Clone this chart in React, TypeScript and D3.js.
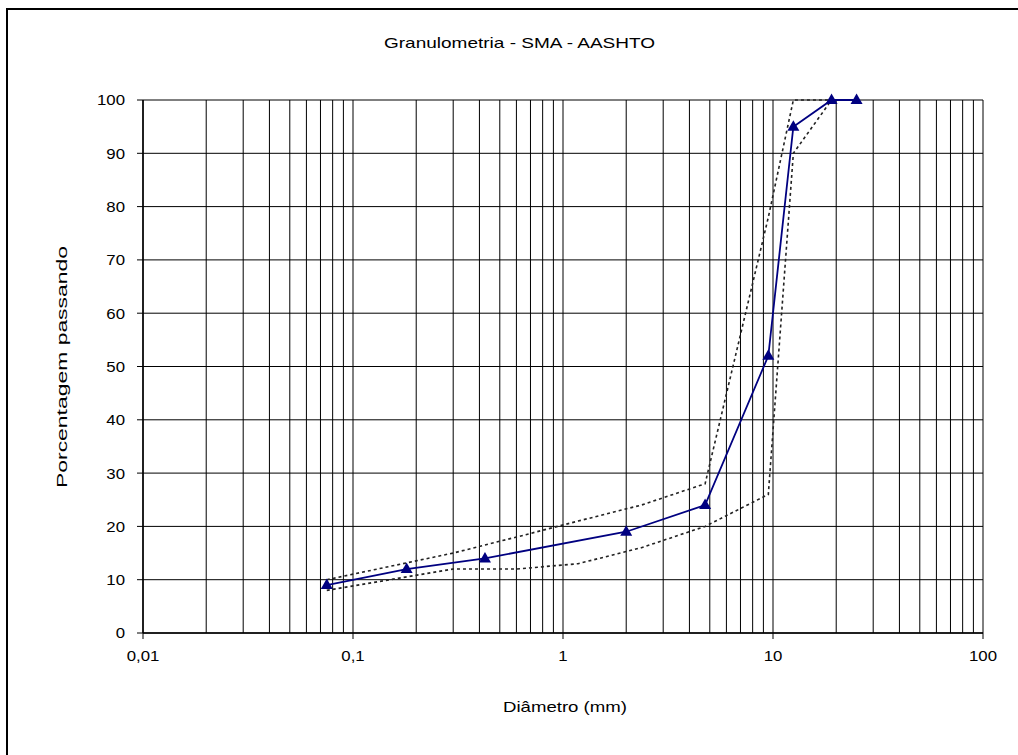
import React from "react";
import * as d3 from "d3";

// measured gradation (Brazilian sieve series)
const sieves = [0.075, 0.18, 0.425, 2.0, 4.75, 9.5, 12.5, 19, 25];
const passing = [9, 12, 14, 19, 24, 52, 95, 100, 100];
// AASHTO SMA band (AASHTO sieve series)
const bandSieves = [0.075, 0.3, 0.6, 1.18, 2.36, 4.75, 9.5, 12.5, 19, 25];
const lowerLimit = [8, 12, 12, 13, 16, 20, 26, 90, 100, 100];
const upperLimit = [10, 15, 18, 21, 24, 28, 78, 100, 100, 100];
const xTickValues = [0.01, 0.1, 1, 10, 100];
const xTickLabels = ["0,01", "0,1", "1", "10", "100"];
const yTickValues = [0, 10, 20, 30, 40, 50, 60, 70, 80, 90, 100];

const W = 1018;
const H = 755;
const FONT = "Arial, 'Liberation Sans', sans-serif";

export default function App() {
  const x = d3.scaleLog().domain([0.01, 100]).range([143, 983]);
  const y = d3.scaleLinear().domain([0, 100]).range([633, 100]);

  const minor: number[] = [];
  for (let k = -2; k <= 1; k++) {
    for (let m = 1; m <= 9; m++) minor.push(m * Math.pow(10, k));
  }
  minor.push(100);

  const pts = (xs: number[], vals: number[]) => xs.map((s, i) => [x(s), y(vals[i])] as [number, number]);
  const line = d3.line();

  return (
    <svg width={W} height={H} style={{ position: "absolute", left: 0, top: 0, background: "#fff" }} fontFamily={FONT}>
      <rect x={0} y={0} width={W} height={H} fill="#fff" />
      <rect x={7} y={9} width={1030} height={780} fill="none" stroke="#000" strokeWidth={2} />
      <text x={384} y={48} fontSize={15} fill="#000" textLength={271} lengthAdjust="spacingAndGlyphs">Granulometria - SMA - AASHTO</text>

      {minor.map((v, i) => (
        <line key={"vg" + i} x1={x(v)} x2={x(v)} y1={y(0)} y2={y(100)} stroke="#000" strokeWidth={1} />
      ))}
      {yTickValues.map((v) => (
        <line key={"hg" + v} x1={x(0.01)} x2={x(100)} y1={y(v)} y2={y(v)} stroke="#000" strokeWidth={1} />
      ))}
      <line x1={x(0.01)} x2={x(0.01)} y1={y(0)} y2={y(100)} stroke="#000" strokeWidth={1.5} />
      <line x1={x(0.01)} x2={x(100)} y1={y(0)} y2={y(0)} stroke="#000" strokeWidth={1.5} />

      {yTickValues.map((v) => (
        <g key={"yt" + v}>
          <line x1={x(0.01) - 6} x2={x(0.01)} y1={y(v)} y2={y(v)} stroke="#000" />
          <g transform={`translate(125,${y(v)}) scale(1.12,1)`}>
            <text x={0} y={0} dy="0.36em" textAnchor="end" fontSize={15} fill="#000">{v}</text>
          </g>
        </g>
      ))}
      {xTickValues.map((v, i) => (
        <g key={"xt" + v}>
          <line x1={x(v)} x2={x(v)} y1={y(0)} y2={y(0) + 6} stroke="#000" />
          <g transform={`translate(${x(v)},661) scale(1.12,1)`}>
            <text x={0} y={0} textAnchor="middle" fontSize={15} fill="#000">{xTickLabels[i]}</text>
          </g>
        </g>
      ))}

      <text x={503} y={712} fontSize={15} fill="#000" textLength={124} lengthAdjust="spacingAndGlyphs">Diâmetro (mm)</text>
      <text transform={`translate(67,488) rotate(-90)`} fontSize={15} fill="#000" textLength={242} lengthAdjust="spacingAndGlyphs">Porcentagem passando</text>

      <path d={line(pts(bandSieves, lowerLimit)) || ""} fill="none" stroke="#222" strokeWidth={1.6} strokeDasharray="3,3" />
      <path d={line(pts(bandSieves, upperLimit)) || ""} fill="none" stroke="#222" strokeWidth={1.6} strokeDasharray="3,3" />
      <path d={line(pts(sieves, passing)) || ""} fill="none" stroke="#000080" strokeWidth={1.8} />
      {sieves.map((s, i) => {
        const cx = x(s);
        const cy = y(passing[i]);
        return (
          <path key={"m" + i} d={`M${cx},${cy - 6.5} L${cx + 6},${cy + 4} L${cx - 6},${cy + 4} Z`} fill="#000080" />
        );
      })}
    </svg>
  );
}
